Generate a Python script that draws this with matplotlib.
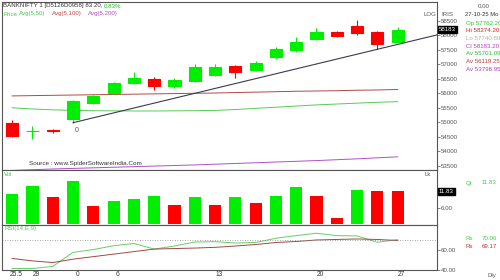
import matplotlib
matplotlib.use('Agg')
import matplotlib.pyplot as plt
import matplotlib.transforms as mtransforms

plt.rcParams['font.family'] = ['Liberation Sans', 'DejaVu Sans']

# Velas diarias (BANKNIFTY)
open_ = [54976, 54690, 54714, 55103, 55645, 55990, 56334, 56483, 56252, 56424,
         56620, 56931, 56793, 57231, 57483, 57852, 58093, 58310, 58093, 57762.20]
high = [55069, 54860, 54770, 55759, 55931, 56390, 56714, 56541, 56507, 57000,
        56990, 56966, 57114, 57597, 57921, 58231, 58128, 58517, 58138, 58274.20]
low = [54472, 54420, 54610, 54976, 55621, 55955, 56310, 56103, 56162, 56390,
       56590, 56507, 56759, 57162, 57424, 57828, 57921, 58000, 57507, 57740.80]
close = [54517, 54700, 54690, 55724, 55897, 56334, 56507, 56252, 56438, 56907,
         56880, 56734, 57024, 57507, 57769, 58093, 57966, 58079, 57690, 58183.20]

# Medias móviles
avg50 = [55490, 55450, 55420, 55400, 55390, 55385, 55380, 55380, 55385, 55390,
         55400, 55430, 55470, 55510, 55550, 55590, 55620, 55650, 55680, 55701.09]
avg100 = [55900, 55910, 55920, 55930, 55940, 55950, 55960, 55970, 55980, 55990,
          56000, 56015, 56030, 56045, 56060, 56070, 56080, 56095, 56105, 56119.25]
avg200 = [53330, 53355, 53380, 53400, 53420, 53440, 53460, 53480, 53500, 53520,
          53545, 53570, 53595, 53620, 53645, 53670, 53700, 53730, 53765, 53798.95]

# Línea de tendencia (dos mínimos que toca)
trend_idx = [3, 18]
trend_px = [54976, 57507]

# Volumen (lakhs) y su color
vol = [11.0, 13.9, 9.7, 15.7, 6.4, 8.5, 9.25, 10.1, 7.0, 9.7,
       7.0, 9.9, 7.5, 10.2, 13.3, 10.1, 2.1, 12.2, 12.1, 11.83]
vol_up = [1, 1, 0, 1, 0, 1, 1, 1, 0, 1, 0, 1, 0, 1, 1, 0, 0, 1, 0, 0]

# RSI y su media
rsi = [41.5, 41.5, 43.5, 57.4, 60.2, 64.0, 66.2, 60.7, 63.7, 67.7,
       68.0, 66.7, 67.2, 71.4, 74.0, 76.4, 74.0, 73.7, 67.4, 70.06]
rsi_sig = [51.4, 49.0, 47.4, 50.7, 53.2, 55.7, 58.2, 60.7, 61.2, 61.7,
           62.4, 63.7, 65.2, 67.2, 68.2, 69.7, 70.2, 70.7, 70.2, 69.17]

tick_idx = [0, 1, 3, 5, 10, 15, 19]
tick_lbl = ['25.5', '29', '0', '6', '13', '20', '27']

GREEN = '#00ee00'
RED = '#ff0000'
GRAY = '#555555'
FS = 4.4

fig = plt.figure(figsize=(5, 2.8), dpi=100)
fig.patch.set_facecolor('white')

def rect(x0, y0, x1, y1):
    return [x0 / 500, 1 - y1 / 280, (x1 - x0) / 500, (y1 - y0) / 280]

def fx(px):
    return px / 500

def fy(py):
    return 1 - py / 280

ax1 = fig.add_axes(rect(2, 2, 437, 170))
ax2 = fig.add_axes(rect(2, 170, 437, 225), sharex=ax1)
ax3 = fig.add_axes(rect(2, 225, 437, 270), sharex=ax1)

for ax in (ax1, ax2, ax3):
    for s in ax.spines.values():
        s.set_color(GRAY)
        s.set_linewidth(0.8)
    ax.yaxis.tick_right()
    ax.tick_params(axis='y', length=2, width=0.5, pad=1, labelsize=FS, colors=GRAY)
    ax.tick_params(axis='x', length=0, labelbottom=False)

n = len(close)
x = list(range(n))

# --- Precio ---
for i in x:
    c = GREEN if close[i] >= open_[i] else RED
    ax1.vlines(i, low[i], high[i], color=c, lw=0.8, zorder=3)
    ax1.bar(i, abs(close[i] - open_[i]), bottom=min(open_[i], close[i]),
            width=0.6, color=c, edgecolor=c, lw=0.8, zorder=4)

ax1.plot(x, avg50, color='#55cc55', lw=0.7, zorder=2)
ax1.plot(x, avg100, color='#b04848', lw=0.7, zorder=2)
ax1.plot(x, avg200, color='#b050c8', lw=0.7, zorder=2)

x_end = 20.94
slope = (trend_px[1] - trend_px[0]) / (trend_idx[1] - trend_idx[0])
ax1.plot([trend_idx[0], x_end], [trend_px[0], trend_px[0] + slope * (x_end - trend_idx[0])],
         color='#3a3a50', lw=0.8, zorder=5)
ax1.text(trend_idx[0] + 0.2, trend_px[0] - 150, '0', fontsize=5, color=GRAY, ha='center', va='top')

ax1.set_xlim(-0.5, x_end)
ax1.set_ylim(53345, 59138)
ax1.set_yticks(range(53500, 59000, 500))
ax1.set_yticklabels([str(v) for v in range(53500, 59000, 500)])
tr1 = mtransforms.blended_transform_factory(ax1.transAxes, ax1.transData)
ax1.text(1.004, close[-1], '%d' % close[-1], transform=tr1, fontsize=FS, color='white',
         va='center', ha='left', zorder=10,
         bbox=dict(boxstyle='square,pad=0.2', fc='black', ec='black'))
ax1.text(0.063, 53500, 'Source : www.SpiderSoftwareIndia.Com', transform=tr1,
         fontsize=4.6, color='#333333', va='bottom')

# --- Volumen ---
ax2.bar(x, vol, width=0.6, color=[GREEN if u else RED for u in vol_up], zorder=3)
ax2.set_ylim(-0.3, 19.6)
ax2.set_yticks([6])
ax2.set_yticklabels(['6.00'])
tr2 = mtransforms.blended_transform_factory(ax2.transAxes, ax2.transData)
ax2.text(1.004, vol[-1], '%.2f' % vol[-1], transform=tr2, fontsize=FS, color='white',
         va='center', ha='left', zorder=10,
         bbox=dict(boxstyle='square,pad=0.2', fc='black', ec='black'))
ax2.text(0.005, 0.97, 'Vol', transform=ax2.transAxes, fontsize=FS, color='#44cc44', va='top')
ax2.text(0.985, 0.97, 'Lk', transform=ax2.transAxes, fontsize=FS, color=GRAY, va='top', ha='right')

# --- RSI ---
ax3.plot(x, rsi, color='#66cc66', lw=0.7)
ax3.plot(x, rsi_sig, color='#a04848', lw=0.7)
ax3.axhline(70, color='#888888', lw=0.6, ls=(0, (1, 2)))
ax3.set_ylim(40, 84.5)
ax3.set_yticks([40, 60])
ax3.set_yticklabels(['40.00', '60.00'])
ax3.text(0.005, 0.97, 'RSI(14,E,9)', transform=ax3.transAxes, fontsize=FS, color='#44cc44', va='top')
ax3.set_xticks([i + 0.2 for i in tick_idx])
ax3.set_xticklabels(tick_lbl)
ax3.tick_params(axis='x', labelbottom=True, labelsize=4.8, pad=1, colors='#333333')

# --- Textos de cabecera ---
fig.text(fx(3), fy(6), 'BANKNIFTY 1 [D5126D0958] 83.20,', fontsize=FS, color='#333333', va='center')
fig.text(fx(104), fy(6), '0.83%', fontsize=FS, color='#22bb22', va='center')
for px, txt, col in [(3, 'Price', '#44cc44'), (19, 'Avg(5,50)', '#44cc44'),
                     (52, 'Avg(5,100)', '#c04848'), (88, 'Avg(5,200)', '#b050c8')]:
    fig.text(fx(px), fy(14), txt, fontsize=FS, color=col, va='center')
fig.text(fx(424), fy(14), 'LOG', fontsize=FS, color=GRAY, va='center')
fig.text(fx(441), fy(14), 'IRIS', fontsize=FS, color=GRAY, va='center')

# --- Panel de información a la derecha ---
fig.text(fx(484), fy(6), '0.00', fontsize=FS, color=GRAY, va='center', ha='center')
fig.text(fx(498), fy(15), '27-10-25 Mo', fontsize=4.2, color='#333333', va='center', ha='right')
info = [('Op %.2f' % open_[-1], '#22cc22'), ('Hi %.2f' % high[-1], '#dd2222'),
        ('Lo %.2f' % low[-1], '#bbaaaa'), ('Cl %.2f' % close[-1], '#b040c0'),
        ('Av %.2f' % avg50[-1], '#33bb33'), ('Av %.2f' % avg100[-1], '#c03838'),
        ('Av %.2f' % avg200[-1], '#b040c0')]
for k, (txt, col) in enumerate(info):
    fig.text(fx(466), fy(23 + 7.7 * k), txt, fontsize=FS, color=col, va='center')

fig.text(fx(466), fy(183), 'Qt', fontsize=FS, color='#44cc44', va='center')
fig.text(fx(482), fy(183), '%.2f' % vol[-1], fontsize=FS, color='#44cc44', va='center')
fig.text(fx(466), fy(238), 'Rs', fontsize=FS, color='#44cc44', va='center')
fig.text(fx(482), fy(238), '%.2f' % rsi[-1], fontsize=FS, color='#44cc44', va='center')
fig.text(fx(466), fy(246), 'Rs', fontsize=FS, color='#c03838', va='center')
fig.text(fx(482), fy(246), '%.2f' % rsi_sig[-1], fontsize=FS, color='#c03838', va='center')
fig.text(fx(487), fy(275), 'Dly', fontsize=FS, color=GRAY, va='center')

fig.savefig('out.png', dpi=100)
